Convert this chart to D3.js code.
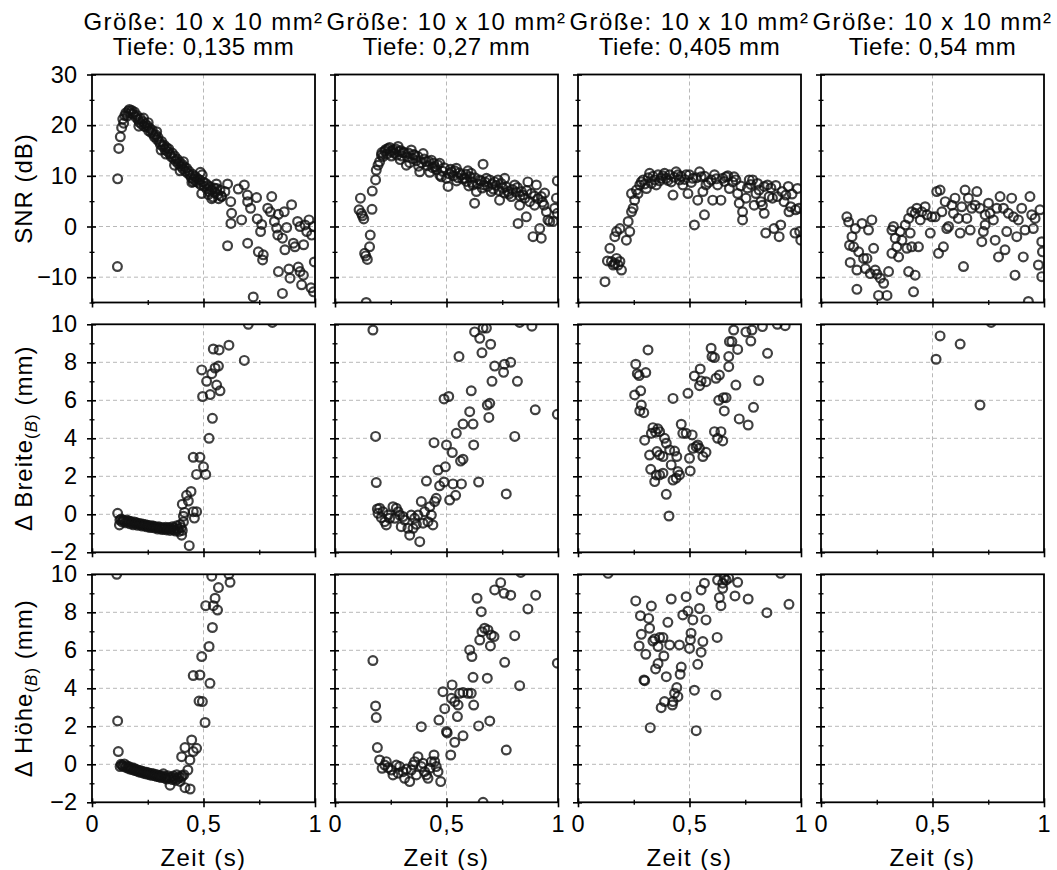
<!DOCTYPE html>
<html>
<head>
<meta charset="utf-8">
<script src="https://cdn.jsdelivr.net/npm/d3@7"></script>
<style>
  body { margin: 0; background: #fff; }
  svg text { font-family: "Liberation Sans", Arial, Helvetica, sans-serif; fill: #000; }
</style>
</head>
<body>
<svg id="chart" width="1057" height="870"></svg>
<script>
// ---- column headings and tick labels ----
const sizeLabel = "Größe: 10 x 10 mm²";
const depthLabels = ["Tiefe: 0,135 mm", "Tiefe: 0,27 mm", "Tiefe: 0,405 mm", "Tiefe: 0,54 mm"];
const xTicks = [0, 0.5, 1];
const xTickLabels = ["0", "0,5", "1"];
const xMinorTicks = [0.25, 0.75];
const snrTicks = [-10, 0, 10, 20, 30];
const snrMinorTicks = [-15, -5, 5, 15, 25];
const deltaTicks = [-2, 0, 2, 4, 6, 8, 10];
const deltaMinorTicks = [-1, 1, 3, 5, 7, 9];

// ---- SNR (dB) over time (s), one array per depth ----
const snrDepth1 = [
  [0.114,-7.9],[0.115,9.4],[0.120,15.4],[0.127,17.7],[0.133,19.5],[0.138,21.2],[0.142,20.4],[0.147,21.9],
  [0.152,22.4],[0.158,21.8],[0.163,22.8],[0.168,23.1],[0.173,22.4],[0.178,22.9],[0.184,22.2],[0.190,22.6],
  [0.196,21.6],[0.202,21.9],[0.207,21.1],[0.212,20.6],[0.217,21.3],[0.222,20.2],[0.228,20.7],[0.233,19.8],
  [0.238,20.3],[0.243,19.6],[0.248,19.9],[0.254,18.9],[0.259,19.4],[0.264,18.6],[0.270,19.0],[0.275,18.2],
  [0.280,17.7],[0.286,18.1],[0.291,17.2],[0.296,17.6],[0.302,16.7],[0.307,16.2],[0.312,16.8],[0.318,15.8],
  [0.323,16.1],[0.328,15.2],[0.334,15.6],[0.339,14.8],[0.344,15.3],[0.350,14.3],[0.355,13.8],[0.360,14.5],
  [0.366,13.4],[0.371,13.9],[0.376,12.9],[0.382,13.3],[0.387,12.4],[0.392,12.8],[0.398,11.9],[0.403,12.3],
  [0.408,11.4],[0.414,11.8],[0.419,10.9],[0.424,11.5],[0.430,10.5],[0.435,10.9],[0.440,10.1],[0.446,9.6],
  [0.451,10.3],[0.456,9.3],[0.462,9.9],[0.467,8.9],[0.472,9.5],[0.478,8.6],[0.483,9.2],[0.488,8.2],
  [0.494,10.2],[0.499,8.8],[0.504,7.9],[0.510,8.5],[0.515,7.4],[0.520,8.1],[0.526,6.8],[0.531,7.8],
  [0.536,7.2],[0.542,5.8],[0.547,7.6],[0.552,6.7],[0.558,8.4],[0.563,6.3],[0.568,5.5],[0.574,7.2],[0.580,6.0],
  [0.454,8.85],[0.492,6.5],[0.537,5.5],[0.559,7.5],[0.581,5.9],[0.596,6.9],
  [0.210,19.8],[0.231,21.4],[0.252,20.5],[0.290,18.7],[0.310,15.1],[0.331,14.3],[0.370,12.1],[0.410,12.8],
  [0.448,8.7],[0.486,10.7],[0.522,6.3],[0.395,11.0],
  [0.608,8.4],[0.656,7.4],[0.683,8.2],[0.697,6.2],[0.622,4.9],[0.626,2.6],[0.623,0.6],[0.671,1.3],
  [0.698,4.9],[0.711,3.6],[0.738,5.7],[0.741,1.5],[0.756,-1.0],[0.761,0.4],[0.788,3.6],[0.800,2.9],
  [0.806,5.9],[0.818,1.0],[0.828,-0.3],[0.833,-1.7],[0.836,2.4],[0.854,-2.3],[0.862,2.9],[0.865,-4.6],
  [0.873,-0.2],[0.895,4.3],[0.903,-3.3],[0.910,-4.0],[0.922,1.0],[0.933,0.0],[0.949,-3.6],[0.955,0.3],
  [0.963,-1.0],[0.973,1.3],[0.985,-1.7],[0.993,0.0],[0.836,-8.9],[0.883,-8.4],[0.888,-10.2],[0.925,-8.0],
  [0.933,-8.9],[0.948,-9.6],[0.940,-11.5],[0.982,-12.1],[0.993,-12.9],[0.997,-7.0],[0.854,-13.2],[0.723,-13.9],
  [0.608,-3.8],[0.698,-3.3],[0.746,-5.0],[0.768,-5.6],[0.765,-6.6]
];
const snrDepth2 = [
  [0.140,-15.0],[0.133,-5.3],[0.145,-6.5],[0.138,-5.8],[0.155,-4.0],[0.158,-1.7],[0.114,5.6],[0.108,3.3],
  [0.118,2.6],[0.129,1.5],[0.123,2.1],[0.166,3.4],[0.167,7.0],[0.182,9.2],[0.185,11.1],[0.193,12.1],
  [0.200,12.8],[0.208,14.1],[0.223,14.9],[0.238,15.4],[0.260,15.1],[0.283,15.8],[0.287,14.8],[0.305,14.6],
  [0.320,12.1],[0.342,15.1],[0.357,14.1],[0.380,10.8],[0.395,14.4],[0.410,12.8],[0.432,13.1],[0.447,11.8],
  [0.469,12.5],[0.477,9.8],[0.500,9.5],[0.507,7.9],[0.522,10.8],[0.544,11.5],[0.567,10.2],[0.581,9.5],
  [0.596,11.0],[0.611,10.5],[0.619,8.2],[0.634,6.9],[0.626,4.6],[0.649,9.2],[0.664,12.3],[0.679,9.5],
  [0.694,9.2],[0.716,8.8],[0.731,9.2],[0.738,5.2],[0.761,9.5],[0.776,6.9],[0.791,5.9],[0.806,8.2],
  [0.821,0.6],[0.828,4.2],[0.836,6.9],[0.851,5.6],[0.858,1.9],[0.865,8.8],[0.873,4.9],[0.888,-2.0],
  [0.895,4.2],[0.903,8.2],[0.918,-0.4],[0.925,-2.3],[0.925,5.9],[0.937,4.2],[0.948,2.9],[0.955,1.3],
  [0.963,1.0],[0.978,1.0],[0.985,3.6],[0.993,5.6],[0.997,9.0],[0.997,2.6],
  [0.210,14.6],[0.215,13.8],[0.228,15.2],[0.233,14.3],[0.245,15.6],[0.252,14.8],[0.265,14.5],[0.272,15.3],
  [0.278,14.1],[0.295,15.0],[0.300,13.9],[0.312,14.6],[0.325,13.7],[0.330,14.5],[0.348,13.4],[0.352,14.2],
  [0.365,13.0],[0.372,13.8],[0.388,12.6],[0.400,13.3],[0.415,12.0],[0.420,12.9],[0.438,11.6],[0.442,12.5],
  [0.455,11.2],[0.460,12.2],[0.483,10.9],[0.490,11.6],[0.512,10.4],[0.518,11.3],[0.530,10.0],[0.537,11.0],
  [0.552,9.6],[0.558,10.6],[0.572,9.4],[0.587,10.3],[0.590,8.9],[0.605,9.8],[0.615,8.7],[0.628,9.6],
  [0.640,8.4],[0.655,9.0],[0.668,8.2],[0.672,8.8],[0.685,7.9],[0.705,8.4],[0.710,7.4],[0.722,8.1],
  [0.735,7.1],[0.745,8.5],[0.752,7.6],[0.768,7.8],[0.780,6.4],[0.795,7.3],[0.812,6.8],[0.818,7.7],
  [0.843,6.2],[0.880,6.5],[0.910,5.5],[0.940,6.6],
  [0.253,13.9],[0.292,13.2],[0.335,12.6],[0.375,11.9],[0.425,10.7],[0.470,10.1],[0.545,9.0],[0.600,8.0],
  [0.660,7.6],[0.700,6.9],[0.760,6.6],[0.830,6.0],[0.860,7.1],[0.895,6.0],[0.930,4.8]
];
const snrDepth3 = [
  [0.121,-10.9],[0.132,-6.8],[0.143,-4.3],[0.150,-6.9],[0.158,-7.6],[0.165,-7.3],[0.173,-6.3],[0.180,-7.6],
  [0.188,-6.9],[0.195,-8.6],[0.165,-2.0],[0.173,-1.0],[0.188,-0.4],[0.217,-2.7],[0.232,-1.0],[0.225,1.0],
  [0.240,2.9],[0.247,3.6],[0.240,6.5],[0.254,5.2],[0.262,7.2],[0.269,6.5],[0.277,8.2],[0.284,8.8],
  [0.292,9.2],[0.307,7.5],[0.321,10.5],[0.329,8.5],[0.344,9.2],[0.351,8.2],[0.359,10.2],[0.374,9.5],
  [0.388,10.5],[0.396,9.5],[0.411,10.2],[0.418,8.8],[0.426,6.2],[0.440,10.8],[0.448,10.2],[0.455,9.2],
  [0.470,8.2],[0.485,10.2],[0.493,6.5],[0.500,10.2],[0.515,9.5],[0.522,0.3],[0.537,5.2],[0.545,10.8],
  [0.552,9.8],[0.560,6.9],[0.567,2.3],[0.574,8.2],[0.597,9.2],[0.604,5.2],[0.612,10.2],[0.626,8.2],
  [0.641,5.2],[0.649,9.5],[0.664,9.8],[0.679,7.5],[0.693,8.8],[0.708,9.2],[0.716,6.5],[0.723,4.6],
  [0.738,1.3],[0.738,2.9],[0.753,5.6],[0.768,9.2],[0.783,9.2],[0.790,4.2],[0.798,6.5],[0.812,7.2],
  [0.820,4.9],[0.827,4.2],[0.835,2.6],[0.842,-1.3],[0.850,8.2],[0.857,5.9],[0.872,5.6],[0.879,-0.4],
  [0.894,5.9],[0.902,-2.0],[0.909,0.3],[0.924,4.9],[0.932,6.2],[0.943,7.9],[0.946,2.9],[0.954,3.9],
  [0.973,-1.3],[0.976,3.3],[0.984,7.5],[0.991,3.6],[0.994,-1.0],[0.999,-2.7],
  [0.300,8.4],[0.315,9.6],[0.336,9.9],[0.366,9.0],[0.380,10.0],[0.403,9.1],[0.432,9.7],[0.462,9.9],
  [0.478,9.3],[0.508,8.7],[0.530,9.6],[0.568,9.9],[0.585,8.7],[0.620,9.4],[0.657,8.9],[0.672,10.0],
  [0.700,9.8],[0.730,8.0],[0.760,7.6],[0.775,8.3],[0.805,8.5],[0.835,7.9],[0.865,7.6],[0.887,8.1],
  [0.915,6.9],[0.960,6.4]
];
const snrDepth4 = [
  [0.116,1.9],[0.124,0.9],[0.139,-2.0],[0.128,-3.7],[0.146,-4.0],[0.154,-0.4],[0.169,-5.0],[0.131,-7.1],
  [0.161,-8.6],[0.184,0.6],[0.191,-6.3],[0.199,-8.3],[0.213,-0.7],[0.228,1.3],[0.236,-4.3],[0.206,-6.3],
  [0.221,-9.3],[0.243,-8.6],[0.251,-9.4],[0.266,-10.2],[0.258,-13.6],[0.281,-11.2],[0.296,-13.6],[0.303,-8.9],
  [0.161,-12.4],[0.318,-0.7],[0.325,0.0],[0.318,-5.3],[0.333,-2.3],[0.340,-4.0],[0.348,-6.0],[0.355,-1.0],
  [0.363,-2.7],[0.378,0.3],[0.385,-4.3],[0.393,-8.9],[0.400,-1.3],[0.407,-4.0],[0.415,-12.9],[0.422,-9.6],
  [0.393,1.6],[0.407,2.9],[0.422,2.6],[0.430,3.6],[0.437,-4.0],[0.445,1.3],[0.452,2.9],[0.467,3.9],
  [0.475,2.3],[0.490,-1.3],[0.497,1.9],[0.512,1.9],[0.519,6.9],[0.527,-5.3],[0.534,7.2],[0.542,2.9],
  [0.549,-4.0],[0.557,4.9],[0.564,-0.4],[0.572,0.0],[0.587,4.2],[0.594,2.6],[0.601,5.6],[0.616,1.6],
  [0.624,-1.3],[0.631,3.9],[0.639,-7.9],[0.646,7.2],[0.654,1.6],[0.661,5.6],[0.669,-0.7],[0.676,3.6],
  [0.691,4.2],[0.699,6.9],[0.713,3.6],[0.721,-3.0],[0.728,-1.0],[0.736,0.3],[0.736,2.3],[0.751,4.6],
  [0.758,2.6],[0.773,1.3],[0.781,-2.7],[0.788,3.6],[0.796,-6.0],[0.803,5.9],[0.818,3.6],[0.825,-4.6],
  [0.833,-1.0],[0.840,2.6],[0.855,5.6],[0.863,1.9],[0.870,-9.6],[0.878,-2.0],[0.885,1.3],[0.900,3.6],
  [0.907,-6.0],[0.915,-0.7],[0.930,-14.8],[0.937,5.9],[0.945,2.3],[0.952,-0.4],[0.960,1.6],[0.975,-7.6],
  [0.982,3.3],[0.990,-3.0],[0.993,-5.0],[0.990,-9.9]
];

// ---- Δ Breite (mm) over time (s) ----
const widthDepth1 = [
  [0.115,0.05],[0.123,-0.56],[0.125,-0.30],[0.130,-0.25],[0.135,-0.40],[0.140,-0.30],[0.145,-0.35],[0.150,-0.45],
  [0.155,-0.30],[0.160,-0.40],[0.165,-0.35],[0.170,-0.50],[0.175,-0.38],[0.180,-0.45],[0.185,-0.55],[0.190,-0.40],
  [0.195,-0.50],[0.200,-0.45],[0.205,-0.58],[0.210,-0.48],[0.215,-0.55],[0.220,-0.50],[0.225,-0.62],[0.230,-0.52],
  [0.235,-0.60],[0.240,-0.55],[0.245,-0.66],[0.250,-0.58],[0.255,-0.62],[0.260,-0.70],[0.265,-0.60],[0.270,-0.68],
  [0.275,-0.62],[0.280,-0.72],[0.285,-0.65],[0.290,-0.70],[0.295,-0.78],[0.300,-0.66],[0.305,-0.74],[0.310,-0.70],
  [0.315,-0.80],[0.320,-0.72],[0.325,-0.78],[0.330,-0.68],[0.335,-0.82],[0.340,-0.75],[0.345,-0.70],[0.350,-0.85],
  [0.355,-0.76],[0.360,-0.66],[0.365,-0.82],[0.370,-0.72],[0.375,-0.88],[0.380,-0.60],[0.385,-0.78],[0.390,-0.90],
  [0.395,-0.55],[0.400,-0.70],[0.405,-0.85],[0.410,-0.40],
  [0.402,-1.10],[0.436,-1.65],[0.410,-0.10],[0.415,0.10],[0.405,0.53],[0.424,1.00],[0.444,1.20],[0.432,0.70],
  [0.454,0.14],[0.469,0.14],[0.459,-0.20],[0.454,3.00],[0.484,3.00],[0.469,2.10],[0.500,2.50],[0.510,2.10],
  [0.525,4.00],[0.540,5.05],[0.496,6.20],[0.530,6.30],[0.574,6.50],[0.514,7.00],[0.559,6.80],[0.492,7.60],
  [0.537,7.40],[0.552,7.70],[0.567,7.80],[0.544,8.70],[0.570,8.65],[0.614,8.90],[0.683,8.10],[0.701,10.00],
  [0.809,10.10]
];
const widthDepth2 = [
  [0.170,9.70],[0.182,4.10],[0.185,1.67],[0.190,0.28],[0.200,0.32],[0.208,-0.18],[0.223,-0.39],[0.238,-0.04],
  [0.260,0.40],[0.268,-0.21],[0.283,0.14],[0.297,-0.65],[0.312,-0.30],[0.335,-1.10],[0.342,-0.04],[0.350,-0.74],
  [0.357,-0.21],[0.365,-0.53],[0.380,-1.44],[0.387,0.67],[0.402,0.14],[0.410,1.75],[0.417,-0.39],[0.425,0.40],
  [0.432,-0.04],[0.439,-0.56],[0.447,0.67],[0.454,0.84],[0.193,0.05],[0.215,0.14],[0.230,-0.56],[0.245,-0.21],
  [0.275,0.32],[0.290,-0.04],[0.305,-0.12],[0.327,-0.74],[0.372,-0.04],[0.395,-0.47],
  [0.444,3.77],[0.462,2.33],[0.469,1.50],[0.489,1.70],[0.495,2.50],[0.500,3.65],[0.514,0.75],[0.529,1.60],
  [0.526,3.25],[0.541,1.00],[0.544,4.26],[0.563,2.80],[0.567,1.60],[0.574,4.75],[0.574,2.90],[0.604,5.40],
  [0.611,6.50],[0.619,4.75],[0.622,3.65],[0.644,1.70],[0.489,6.07],[0.510,6.20],[0.556,8.30],[0.626,9.60],
  [0.649,9.26],[0.664,9.80],[0.679,9.80],[0.659,8.50],[0.698,8.95],[0.683,5.75],[0.690,5.10],[0.694,5.84],
  [0.704,7.00],[0.716,7.80],[0.756,7.47],[0.760,7.90],[0.788,8.00],[0.818,7.00],[0.768,1.07],[0.806,4.10],
  [0.828,10.10],[0.883,9.90],[0.898,5.50],[0.997,5.26]
];
const widthDepth3 = [
  [0.314,8.65],[0.259,7.90],[0.266,7.40],[0.274,7.30],[0.304,7.46],[0.254,6.28],[0.281,6.50],[0.284,5.75],
  [0.277,5.44],[0.295,5.35],[0.426,6.10],[0.493,6.37],[0.336,4.56],[0.358,4.50],[0.329,4.26],[0.348,4.32],
  [0.366,4.35],[0.388,4.00],[0.299,3.90],[0.321,3.12],[0.354,3.30],[0.366,3.12],[0.381,3.04],[0.396,3.74],
  [0.411,3.39],[0.433,3.33],[0.443,3.04],[0.326,2.37],[0.344,1.72],[0.351,2.07],[0.366,2.07],[0.381,2.16],
  [0.418,2.60],[0.426,1.80],[0.440,1.90],[0.455,2.07],[0.448,2.25],[0.396,1.05],[0.408,-0.09],[0.463,4.74],
  [0.470,4.26],[0.485,4.26],[0.512,4.18],[0.500,2.95],[0.503,2.28],[0.515,3.47],[0.530,3.56],[0.545,3.47],
  [0.560,3.04],[0.574,3.26],[0.537,3.65],[0.522,7.28],[0.548,7.65],[0.552,7.02],[0.574,6.98],[0.545,6.77],
  [0.597,8.74],[0.601,8.30],[0.612,8.25],[0.619,7.16],[0.634,7.33],[0.631,6.00],[0.652,6.14],[0.664,6.14],
  [0.656,5.44],[0.641,4.35],[0.612,4.35],[0.626,4.00],[0.649,3.86],[0.676,8.30],[0.676,7.77],[0.690,9.09],
  [0.679,9.09],[0.698,9.70],[0.716,8.68],[0.708,6.80],[0.723,5.02],[0.763,4.70],[0.753,9.60],[0.775,9.12],
  [0.780,9.70],[0.787,5.63],[0.810,7.04],[0.827,9.88],[0.850,8.47],[0.894,10.00],[0.929,9.93]
];
const widthDepth4 = [
  [0.534,9.39],[0.624,8.96],[0.516,8.16],[0.713,5.75],[0.763,10.10]
];

// ---- Δ Höhe (mm) over time (s) ----
const heightDepth1 = [
  [0.118,0.67],[0.115,2.28],[0.111,10.00],[0.126,-0.12],[0.130,0.00],[0.135,-0.05],[0.140,-0.10],[0.145,0.02],
  [0.150,-0.15],[0.155,-0.08],[0.160,-0.20],[0.165,-0.12],[0.170,-0.25],[0.175,-0.18],[0.180,-0.28],[0.185,-0.20],
  [0.190,-0.32],[0.195,-0.25],[0.200,-0.35],[0.205,-0.30],[0.210,-0.40],[0.215,-0.32],[0.220,-0.42],[0.225,-0.36],
  [0.230,-0.46],[0.235,-0.40],[0.240,-0.50],[0.245,-0.42],[0.250,-0.52],[0.255,-0.46],[0.260,-0.56],[0.265,-0.48],
  [0.270,-0.58],[0.275,-0.50],[0.280,-0.60],[0.285,-0.54],[0.290,-0.64],[0.295,-0.56],[0.300,-0.66],[0.305,-0.60],
  [0.310,-0.70],[0.315,-0.62],[0.320,-0.50],[0.325,-0.72],[0.330,-0.66],[0.335,-0.78],[0.340,-0.60],[0.345,-0.74],
  [0.350,-1.10],[0.355,-0.68],[0.360,-0.80],[0.365,-0.62],[0.370,-0.74],[0.375,-0.85],[0.380,-0.55],[0.385,-0.75],
  [0.390,-0.65],[0.395,-0.90],[0.400,-0.70],[0.405,-0.60],[0.417,-1.23],[0.440,-1.30],
  [0.402,0.40],[0.417,0.88],[0.447,1.28],[0.469,0.84],[0.439,0.23],[0.454,0.67],[0.430,-0.30],[0.412,-0.55],
  [0.454,4.67],[0.484,4.70],[0.529,4.26],[0.480,3.33],[0.495,3.30],[0.507,2.20],[0.492,5.67],[0.525,6.20],
  [0.540,7.20],[0.510,8.35],[0.552,8.74],[0.563,8.12],[0.544,8.35],[0.567,9.30],[0.537,9.90],[0.619,9.58],
  [0.614,10.00]
];
const heightDepth2 = [
  [0.170,5.46],[0.182,3.07],[0.185,2.46],[0.190,0.88],[0.200,0.23],[0.211,-0.21],[0.223,-0.04],[0.238,-0.18],
  [0.260,-0.56],[0.275,-0.04],[0.290,-0.12],[0.305,-0.39],[0.320,-0.25],[0.335,-0.91],[0.350,-0.04],[0.365,-0.56],
  [0.372,0.40],[0.387,-0.12],[0.402,-0.39],[0.417,-0.74],[0.432,0.14],[0.444,0.49],[0.454,-0.12],[0.462,-0.39],
  [0.474,-0.91],[0.230,0.14],[0.253,-0.30],[0.283,-0.47],[0.312,-0.74],[0.342,-0.30],[0.357,0.14],[0.395,0.05],
  [0.410,-0.56],[0.425,-0.21],[0.447,0.14],
  [0.387,1.98],[0.466,2.33],[0.484,3.82],[0.492,2.93],[0.500,1.72],[0.503,1.65],[0.519,0.49],[0.525,4.18],
  [0.537,1.16],[0.522,3.47],[0.537,3.30],[0.549,2.51],[0.552,3.12],[0.559,3.74],[0.574,1.50],[0.574,3.78],
  [0.596,3.74],[0.611,3.74],[0.622,3.12],[0.619,4.58],[0.683,4.53],[0.644,2.02],[0.694,2.28],[0.604,6.02],
  [0.614,5.67],[0.649,6.54],[0.659,6.98],[0.671,7.16],[0.686,7.07],[0.701,6.80],[0.713,6.72],[0.697,6.23],
  [0.637,8.74],[0.656,8.03],[0.716,9.18],[0.743,9.56],[0.758,9.00],[0.788,8.90],[0.761,5.37],[0.806,6.77],
  [0.828,4.14],[0.768,0.75],[0.833,10.10],[0.865,8.18],[0.900,8.90],[0.997,5.32],[0.664,-2.00]
];
const heightDepth3 = [
  [0.135,10.05],[0.259,8.60],[0.280,7.82],[0.317,7.68],[0.329,8.33],[0.284,6.84],[0.321,7.16],[0.274,6.23],
  [0.304,5.79],[0.336,6.49],[0.344,6.60],[0.359,6.20],[0.366,6.67],[0.381,6.67],[0.385,5.70],[0.359,5.30],
  [0.348,5.02],[0.296,4.44],[0.299,4.40],[0.396,4.61],[0.411,6.28],[0.418,8.70],[0.403,7.47],[0.455,6.28],
  [0.463,5.12],[0.458,4.74],[0.470,7.86],[0.485,8.82],[0.493,8.07],[0.500,6.10],[0.507,6.90],[0.515,7.60],
  [0.504,6.55],[0.522,3.90],[0.443,4.04],[0.433,3.74],[0.426,3.30],[0.448,3.56],[0.423,3.12],[0.388,3.30],
  [0.373,2.98],[0.324,1.93],[0.530,1.77],[0.537,5.26],[0.545,8.20],[0.552,9.18],[0.560,6.46],[0.552,5.90],
  [0.567,9.53],[0.574,7.60],[0.619,3.65],[0.624,6.68],[0.626,9.70],[0.634,8.77],[0.641,8.35],[0.649,9.53],
  [0.656,9.80],[0.664,9.70],[0.676,9.80],[0.649,9.26],[0.704,8.86],[0.716,9.58],[0.763,8.70],[0.847,7.98],
  [0.909,10.05],[0.946,8.42]
];
const heightDepth4 = [];

// ---- layout ----
const svg = d3.select("#chart");
const colLeft = [92, 335, 578, 821];
const rowTop = [74.5, 324.3, 574.3];
const panelW = 223, panelH = 228;
const fontTick = 23.5, fontLabel = 24, fontTitle = 24;

const rows = [
  { domain: [-15, 30], major: snrTicks, minor: snrMinorTicks, grid: [-10, 0, 10, 20],
    series: [snrDepth1, snrDepth2, snrDepth3, snrDepth4] },
  { domain: [-2, 10], major: deltaTicks, minor: deltaMinorTicks, grid: [0, 2, 4, 6, 8],
    series: [widthDepth1, widthDepth2, widthDepth3, widthDepth4] },
  { domain: [-2, 10], major: deltaTicks, minor: deltaMinorTicks, grid: [0, 2, 4, 6, 8],
    series: [heightDepth1, heightDepth2, heightDepth3, heightDepth4] }
];

const fmtMinus = d => (d < 0 ? "\u2212" + Math.abs(d) : String(d));

const defs = svg.append("defs");
defs.append("clipPath").attr("id", "panelClip")
  .append("rect").attr("x", 0).attr("y", 0).attr("width", panelW).attr("height", panelH);

rows.forEach((row, r) => {
  const y = d3.scaleLinear().domain(row.domain).range([panelH, 0]);
  colLeft.forEach((left, c) => {
    const x = d3.scaleLinear().domain([0, 1]).range([0, panelW]);
    const g = svg.append("g").attr("transform", `translate(${left},${rowTop[r]})`);

    // dashed grid
    const grid = g.append("g").attr("stroke", "#b8b8b8").attr("stroke-width", 1)
      .attr("stroke-dasharray", "4,3");
    grid.selectAll("line.h").data(row.grid).join("line").attr("class", "h")
      .attr("x1", 0).attr("x2", panelW).attr("y1", d => y(d)).attr("y2", d => y(d));
    grid.selectAll("line.v").data([0.5]).join("line").attr("class", "v")
      .attr("x1", d => x(d)).attr("x2", d => x(d)).attr("y1", 0).attr("y2", panelH);

    // open circle markers
    g.append("g").attr("clip-path", "url(#panelClip)")
      .selectAll("circle").data(row.series[c]).join("circle")
      .attr("cx", d => x(d[0])).attr("cy", d => y(d[1])).attr("r", 4.4)
      .attr("fill", "none").attr("stroke", "#111").attr("stroke-opacity", 0.8)
      .attr("stroke-width", 2.2);

    // left axis (major + minor), ticks crossing the spine
    const yAxis = d3.axisLeft(y).tickValues(row.major)
      .tickFormat(c === 0 ? fmtMinus : () => "")
      .tickSizeInner(5).tickSizeOuter(0).tickPadding(10);
    const ya = g.append("g").call(yAxis);
    ya.select(".domain").remove();
    ya.selectAll(".tick line").attr("x1", 4).attr("stroke-width", 1.6);
    ya.selectAll("text").attr("font-size", fontTick).attr("font-family", null);
    const yMinor = g.append("g").call(d3.axisLeft(y).tickValues(row.minor)
      .tickFormat(() => "").tickSizeInner(2.5).tickSizeOuter(0));
    yMinor.select(".domain").remove();
    yMinor.selectAll(".tick line").attr("x1", 2.5).attr("stroke-width", 1.3);

    // bottom axis
    const xAxis = d3.axisBottom(x).tickValues(xTicks)
      .tickFormat(r === 2 ? (d, i) => xTickLabels[i] : () => "")
      .tickSizeInner(5).tickSizeOuter(0).tickPadding(8);
    const xa = g.append("g").attr("transform", `translate(0,${panelH})`).call(xAxis);
    xa.select(".domain").remove();
    xa.selectAll(".tick line").attr("y1", -4).attr("stroke-width", 1.6);
    xa.selectAll("text").attr("font-size", fontTick).attr("font-family", null)
      .attr("letter-spacing", 1);
    const xMinor = g.append("g").attr("transform", `translate(0,${panelH})`)
      .call(d3.axisBottom(x).tickValues(xMinorTicks).tickFormat(() => "").tickSizeInner(2.5).tickSizeOuter(0));
    xMinor.select(".domain").remove();
    xMinor.selectAll(".tick line").attr("y1", -2.5).attr("stroke-width", 1.3);

    // frame
    g.append("rect").attr("width", panelW).attr("height", panelH)
      .attr("fill", "none").attr("stroke", "#000").attr("stroke-width", 1.8);

    if (r === 2) {
      svg.append("text").attr("x", left + panelW / 2).attr("y", 866)
        .attr("text-anchor", "middle").attr("font-size", fontLabel)
        .attr("letter-spacing", 1.4).text("Zeit (s)");
    }
  });
});

// column headings
colLeft.forEach((left, c) => {
  const cx = left + panelW / 2;
  svg.append("text").attr("x", cx).attr("y", 30).attr("text-anchor", "middle")
    .attr("font-size", fontTitle).attr("letter-spacing", 1.4).text(sizeLabel);
  svg.append("text").attr("x", cx).attr("y", 55).attr("text-anchor", "middle")
    .attr("font-size", fontTitle).attr("letter-spacing", 0.6).text(depthLabels[c]);
});

// y-axis titles
function yTitle(r, build) {
  const cy = rowTop[r] + panelH / 2;
  const t = svg.append("text").attr("transform", `translate(32,${cy}) rotate(-90)`)
    .attr("text-anchor", "middle").attr("font-size", fontLabel).attr("letter-spacing", 1);
  build(t);
}
yTitle(0, t => t.text("SNR (dB)"));
[[1, "\u0394 Breite"], [2, "\u0394 Höhe"]].forEach(([r, word]) => {
  yTitle(r, t => {
    t.append("tspan").text(word);
    const s = t.append("tspan").attr("dy", "0.3em").attr("font-size", 17);
    s.append("tspan").text("(");
    s.append("tspan").attr("font-style", "italic").text("B");
    s.append("tspan").text(")");
    t.append("tspan").attr("dy", "-0.22em").text(" (mm)");
  });
});
</script>
</body>
</html>
